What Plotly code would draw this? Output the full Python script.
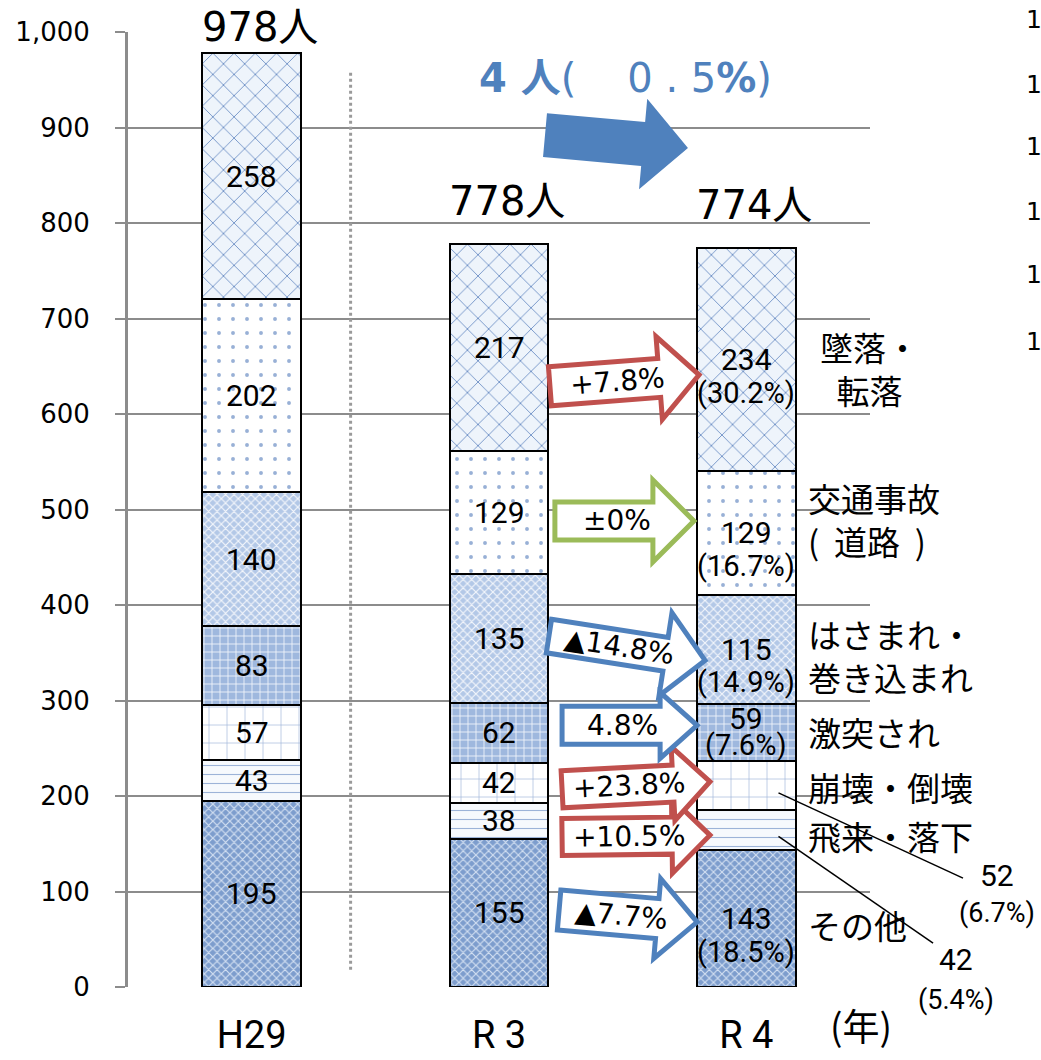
import math
import plotly.graph_objects as go

# ---- data -------------------------------------------------------------
years = ["H29", "R 3", "R 4"]
causes = ["その他", "飛来・落下", "崩壊・倒壊", "激突され",
          "はさまれ・巻き込まれ", "交通事故（道路）", "墜落・転落"]
cause_labels = ["その他", "飛来・落下", "崩壊・倒壊", "激突され",
                "はさまれ・<br>巻き込まれ", "交通事故<br>(  道路  )", "墜落・<br>転落"]
h29 = [195, 43, 57, 83, 140, 202, 258]
r3 = [155, 38, 42, 62, 135, 129, 217]
r4 = [143, 42, 52, 59, 115, 129, 234]
change_labels = ["▲7.7%", "+10.5%", "+23.8%", "4.8%", "▲14.8%", "±0%", "+7.8%"]
y_ticks = [0, 100, 200, 300, 400, 500, 600, 700, 800, 900, 1000]

series = [h29, r3, r4]
xpos = [0, 1, 2]

# ---- figure geometry ----------------------------------------------------
W, H = 1041, 1060
ML, MR, MT, MB = 128, 171, 32, 73
PW, PH = W - ML - MR, H - MT - MB
XR = (-0.5, 2.5)
YR = (0, 1000)
SX = PW / (XR[1] - XR[0])      # px per x unit
SY = PH / (YR[1] - YR[0])      # px per y unit

JP = "Noto Sans CJK JP"
NUM = "Roboto, Noto Sans CJK JP"
WIDE = "DejaVu Sans, Noto Sans CJK JP"

RED, GREEN, BLUE = "#C0504D", "#9BBB59", "#4F81BD"


def px_(x):
    return (x - XR[0]) / (XR[1] - XR[0])


def py_(y):
    return (y - YR[0]) / (YR[1] - YR[0])


# fill patterns per cause (bottom to top)
patterns = [
    dict(bg="#7d9dcd", fg="#d3e0f2", shape="x", size=6, solidity=0.35),
    dict(bg="#f6f9fd", fg="#9cb3d8", shape="-", size=9, solidity=0.12),
    dict(bg="#ffffff", fg="#9bb3d8", shape="+", size=18, solidity=0.07),
    dict(bg="#9fb8de", fg="#f2f6fc", shape="+", size=8, solidity=0.2),
    dict(bg="#b3c8e7", fg="#f4f7fc", shape="x", size=6, solidity=0.35),
    dict(bg="#ffffff", fg="#98b0d6", shape=".", size=14, solidity=0.06),
    dict(bg="#eef4fb", fg="#7393c7", shape="x", size=15, solidity=0.12),
]

fig = go.Figure()

for i, cause in enumerate(causes):
    p = patterns[i]
    fig.add_trace(go.Bar(
        x=xpos, y=[s[i] for s in series], name=cause, width=0.4,
        marker=dict(color=p["bg"], line=dict(color="black", width=2),
                    pattern=dict(shape=p["shape"], bgcolor=p["bg"], fgcolor=p["fg"],
                                 size=p["size"], solidity=p["solidity"], fillmode="replace")),
        hoverinfo="skip", showlegend=False,
    ))

annotations = []
shapes = []


def add_text(x, y, text, size, family=NUM, color="black", **kw):
    kw.setdefault("xanchor", "center")
    kw.setdefault("yanchor", "middle")
    annotations.append(dict(x=px_(x), y=py_(y), xref="paper", yref="paper", text=text,
                            showarrow=False,
                            font=dict(size=size, family=family, color=color), **kw))


# cumulative bases
bases = []
for s in series:
    b, acc = [], 0
    for v in s:
        b.append(acc)
        acc += v
    bases.append(b)

# value labels for H29 and R3
for k in (0, 1):
    for i, v in enumerate(series[k]):
        add_text(xpos[k], bases[k][i] + v / 2, str(v), 30)

# R4: value and share inside the larger segments, leader labels for the small ones
tot4 = sum(r4)
for i, v in enumerate(r4):
    mid = bases[2][i] + v / 2
    share = f"({v / tot4 * 100:.1f}%)"
    if i in (1, 2):
        continue
    if v * SY < 70:
        add_text(xpos[2], mid, str(v), 30, yshift=14)
        add_text(xpos[2], mid, share, 29, yshift=-13)
    else:
        add_text(xpos[2], mid, str(v), 30)
        add_text(xpos[2], mid, share, 29, yshift=-33)

# leader lines for 崩壊・倒壊 (i=2) and 飛来・落下 (i=1)
leaders = {2: (2.876, 114, 3.013, 117, 77), 1: (2.755, 46, 2.848, 29, -14)}
for i, (lx, ly, tx, ty, py) in leaders.items():
    v = r4[i]
    sy0 = bases[2][i] + v * 0.35
    shapes.append(dict(type="line", xref="paper", yref="paper",
                       x0=px_(2.13), y0=py_(sy0), x1=px_(lx), y1=py_(ly),
                       line=dict(color="black", width=1.5), layer="above"))
    add_text(tx, ty, str(v), 30)
    add_text(tx, py, f"({v / tot4 * 100:.1f}%)", 27)

# totals above bars
for k, s in enumerate(series):
    t = sum(s)
    add_text(xpos[k], min(t + 45, 1005), f"{t}人", 40, family=WIDE, xshift=8)

# cause names beside the R4 bar
name_nudge = [-6, -6, -2, 0, -6, 13, -9]
for i, lab in enumerate(cause_labels):
    mid = bases[2][i] + r4[i] / 2
    if i == 6:
        add_text(2.241, mid, lab, 33, family=JP, xanchor="left", align="center",
                 xshift=12, yshift=name_nudge[i])
    else:
        add_text(2.241, mid, lab, 33, family=JP, xanchor="left", align="left",
                 yshift=name_nudge[i])


def block_arrow(x0, y0, x1, y1, body, head, head_len):
    """Block arrow outline in paper units, sized in pixels."""
    P0 = (x0 * SX, y0 * SY)
    P1 = (x1 * SX, y1 * SY)
    dx, dy = P1[0] - P0[0], P1[1] - P0[1]
    L = math.hypot(dx, dy)
    ux, uy = dx / L, dy / L
    nx, ny = -uy, ux
    B = (P1[0] - ux * head_len, P1[1] - uy * head_len)
    pts = [
        (P0[0] + nx * body / 2, P0[1] + ny * body / 2),
        (B[0] + nx * body / 2, B[1] + ny * body / 2),
        (B[0] + nx * head / 2, B[1] + ny * head / 2),
        P1,
        (B[0] - nx * head / 2, B[1] - ny * head / 2),
        (B[0] - nx * body / 2, B[1] - ny * body / 2),
        (P0[0] - nx * body / 2, P0[1] - ny * body / 2),
    ]
    path = "M " + " L ".join(f"{px_(qx / SX):.5f},{py_(qy / SY):.5f}" for qx, qy in pts) + " Z"
    angle = -math.degrees(math.atan2(dy, dx))
    return path, angle, L, (ux, uy)


# change arrows between R3 and R4 (bottom to top)
arrow_geom = [
    (1.243, 80.6, 1.801, 68, 40, 80, 40),
    (1.255, 157, 1.853, 159, 37, 75, 38),
    (1.255, 207, 1.853, 215, 37, 74, 37),
    (1.255, 274, 1.801, 274, 38, 66, 37),
    (1.202, 367.5, 1.833, 342, 34, 84, 40),
    (1.226, 488, 1.788, 488, 38, 82, 41),
    (1.206, 629, 1.809, 641, 39, 83, 40),
]
for i, g in enumerate(arrow_geom):
    a, b = r3[i], r4[i]
    col = GREEN if a == b else (RED if b > a else BLUE)
    path, ang, L, (ux, uy) = block_arrow(*g)
    shapes.append(dict(type="path", xref="paper", yref="paper", path=path, fillcolor="white",
                       line=dict(color=col, width=5), layer="above"))
    tx = g[0] + ux * L * 0.45 / SX
    ty = g[1] + uy * L * 0.45 / SY
    add_text(tx, ty, change_labels[i], 28, family=WIDE, textangle=ang)

# overall change arrow and text
path, _, _, _ = block_arrow(1.186, 892, 1.764, 878.5, 44, 91, 45)
shapes.append(dict(type="path", xref="paper", yref="paper", path=path, fillcolor=BLUE,
                   line=dict(width=0), layer="above"))
diff = sum(r3) - sum(r4)
pct = f"{diff / sum(r3) * 100:.1f}"
add_text(0.91, 952, f"<b>{diff} 人</b>(    {pct[0]} {pct[1]} {pct[2:]}<b>%</b>)", 40,
         family=WIDE, color=BLUE, xanchor="left")

# dotted separator between H29 and the recent years
shapes.append(dict(type="line", xref="paper", yref="paper", x0=px_(0.4), x1=px_(0.4),
                   y0=py_(18), y1=py_(960),
                   line=dict(color="#9a9a9a", width=3, dash="dot"), layer="above"))

# unit label
add_text(2.463, -40, "(年)", 37, family=JP)

# edge labels at the right margin
for py in [20, 84, 147, 211, 275, 341]:
    annotations.append(dict(x=(1034 - ML) / PW, y=(H - MB - py) / PH, xref="paper", yref="paper",
                            xanchor="center", yanchor="middle",
                            text="1", showarrow=False,
                            font=dict(size=25, family=WIDE, color="black")))

fig.update_layout(
    width=W, height=H, autosize=False,
    margin=dict(l=ML, r=MR, t=MT, b=MB, pad=0),
    barmode="stack", bargap=0,
    plot_bgcolor="white", paper_bgcolor="white",
    shapes=shapes, annotations=annotations,
    xaxis=dict(range=list(XR), tickvals=xpos, ticktext=years, showgrid=False,
               zeroline=False, showline=False, ticks="", automargin=False,
               tickfont=dict(size=38, family=NUM, color="black"), ticklabelstandoff=22),
    yaxis=dict(range=list(YR), tickvals=y_ticks, tickformat=",d", showgrid=True,
               gridcolor="#8c8c8c", gridwidth=2, zeroline=False, automargin=False,
               showline=True, linecolor="#8c8c8c", linewidth=3,
               ticks="outside", ticklen=10, tickcolor="#8c8c8c", tickwidth=2,
               tickfont=dict(size=26, family=WIDE, color="black"), ticklabelstandoff=20),
)

fig.write_html("out.html")
